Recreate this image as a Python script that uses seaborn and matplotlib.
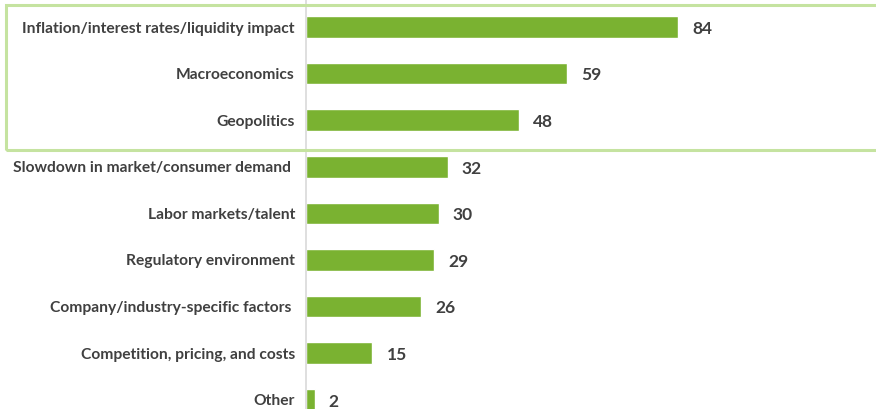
import matplotlib
matplotlib.use("Agg")
import matplotlib.pyplot as plt
from matplotlib.patches import Rectangle
import seaborn as sns
import pandas as pd

categories = [
    "Inflation/interest rates/liquidity impact",
    "Macroeconomics",
    "Geopolitics",
    "Slowdown in market/consumer demand ",
    "Labor markets/talent",
    "Regulatory environment",
    "Company/industry-specific factors ",
    "Competition, pricing, and costs",
    "Other",
]
values = [84, 59, 48, 32, 30, 29, 26, 15, 2]

df = pd.DataFrame({"factor": categories, "count": values})

sns.set_theme(style="white")
plt.rcParams["font.family"] = ["Lato", "DejaVu Sans"]

W, H = 876, 409
fig = plt.figure(figsize=(W / 100, H / 100), dpi=100)
ax = fig.add_axes([306 / W, 0, 1 - 306 / W, 1])

bar_color = "#7AB231"
sns.barplot(data=df, x="count", y="factor", orient="h", color=bar_color,
            width=0.46, saturation=1, ax=ax)

px_per_unit = (678 - 306) / 84
ax.set_xlim(0, (W - 306) / px_per_unit)
step = 46.6
first = 27
ax.set_ylim((H - first) / step, -first / step)

for spine in ["top", "right", "bottom"]:
    ax.spines[spine].set_visible(False)
ax.spines["left"].set_color("#d9d9d9")
ax.spines["left"].set_linewidth(1.2)

ax.set_xlabel("")
ax.set_ylabel("")
ax.set_xticks([])
ax.tick_params(axis="y", length=0, pad=8)
for lbl in ax.get_yticklabels():
    lbl.set_fontsize(11.25)
    lbl.set_fontweight("bold")
    lbl.set_color("#404040")

for i, v in enumerate(values):
    ax.text(v + 14 / px_per_unit, i + 0.04, str(v), va="center", ha="left",
            fontsize=12.5, fontweight="bold", color="#404040")

# highlight frame around the top three factors
fig.patches.append(Rectangle((6 / W, 1 - 150 / H), 1.0, (150 - 5) / H,
                             transform=fig.transFigure, fill=False,
                             edgecolor="#c5e3a0", linewidth=2.2))

fig.savefig("out.png", dpi=100)
